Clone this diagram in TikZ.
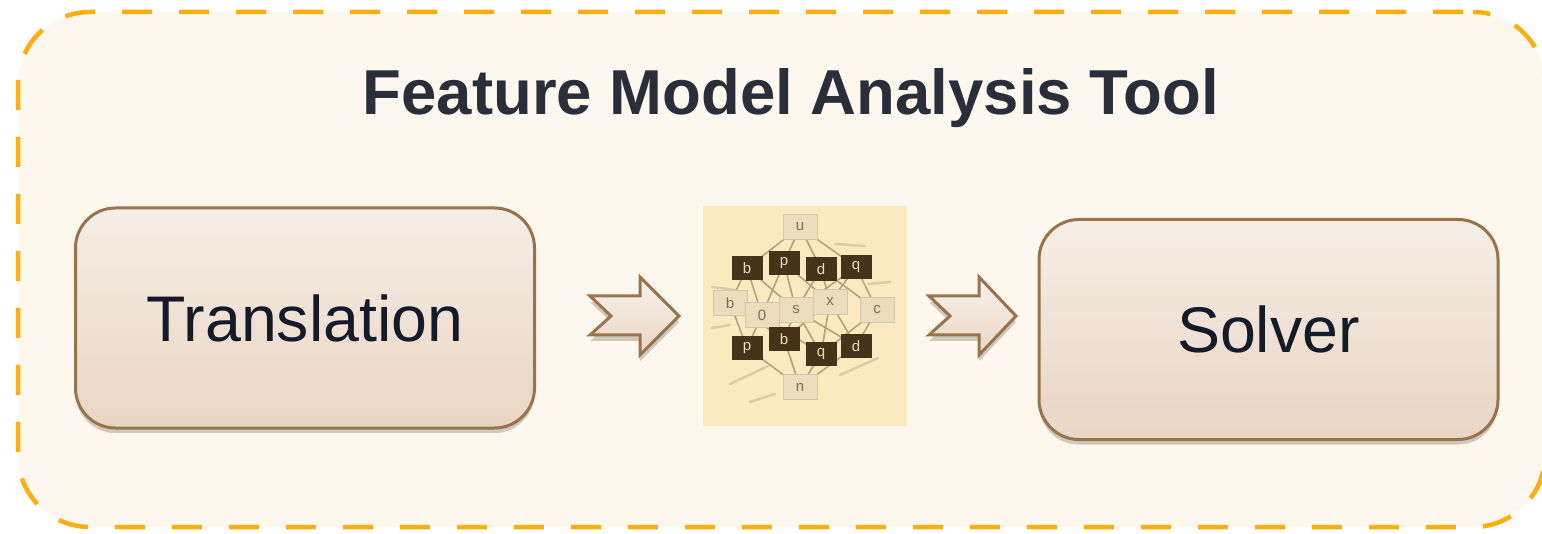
\documentclass[tikz,border=0pt]{standalone}
\usepackage{fontspec}
\setmainfont{Liberation Sans}
\usetikzlibrary{shadows}
\definecolor{panelfill}{HTML}{FEF7EE}
\definecolor{dashorange}{HTML}{FFAE12}
\definecolor{boxedge}{HTML}{98734C}
\definecolor{boxtop}{HTML}{F5EEE6}
\definecolor{boxbot}{HTML}{E9D5C3}
\definecolor{boxshadow}{HTML}{D0C9B9}
\definecolor{inktext}{HTML}{141A28}
\definecolor{titleink}{HTML}{2A2E3A}
\definecolor{latticebg}{HTML}{FDE9C0}
\definecolor{latticeline}{HTML}{B5A27C}
\definecolor{latticedark}{HTML}{49321A}
\definecolor{latticelight}{HTML}{EBDDBB}
\definecolor{smudge}{HTML}{DDCBA3}
\tikzset{
  x=1pt,y=-1pt,
  panel/.style={draw=dashorange,fill=panelfill,line width=4.5pt,rounded corners=72pt,
    dash pattern=on 30pt off 27pt,dash phase=47pt,inner sep=0pt,
    minimum width=1527pt,minimum height=515pt},
  stagebox/.style={draw=boxedge,line width=3pt,rounded corners=40pt,top color=boxtop,bottom color=boxbot,
    inner sep=0pt,minimum width=459pt,minimum height=220pt,text=inktext,
    font=\fontsize{64.5}{70}\selectfont,
    general shadow={fill=boxshadow,shadow xshift=0pt,shadow yshift=-5pt,opacity=1}},
  titletext/.style={text=titleink,inner sep=0pt,font=\fontsize{63.5}{70}\bfseries\selectfont},
  latticeimg/.style={fill=latticebg,inner sep=0pt,minimum width=204pt,minimum height=220pt},
  darkel/.style={fill=latticedark,text=latticelight,inner sep=0pt,minimum width=31pt,minimum height=24pt,font=\fontsize{15}{16}\selectfont},
  lightel/.style={fill=latticelight,draw=latticeline!60,line width=.6pt,text=latticedark!70,inner sep=0pt,minimum width=34pt,minimum height=25pt,font=\fontsize{15}{16}\selectfont},
  latedge/.style={draw=latticeline,line width=1.6pt},
  smudgeline/.style={draw=smudge,line width=2.5pt,line cap=round},
  chev/.style={draw=boxedge,line width=3pt,line join=miter,top color=boxtop!70!white,bottom color=boxbot},
  chevshadow/.style={fill=boxshadow},
}
\newcommand{\chevpath}{(0,0) -- (50,0) -- (50,-19) -- (89,20) -- (50,59) -- (50,39) -- (0,39) -- (21,20) -- cycle}
\begin{document}
\begin{tikzpicture}
\useasboundingbox (0,0) rectangle (1542,534);
\node[panel] (panel) at (781.5,269.5) {};
\node[titletext] (title) at (791,98) {Feature Model Analysis Tool};
\node[stagebox] (translation) at (305,318) {\raisebox{-2pt}{Translation}};
\node[stagebox] (solver) at (1268.5,329.5) {Solver};
\node[latticeimg] (image) at (805,316) {};
% smudges in the image
\draw[smudgeline] (730,384) -- (768,366);
\draw[smudgeline] (750,402) -- (775,394);
\draw[smudgeline] (840,375) -- (878,358);
\draw[smudgeline] (712,328) -- (730,325);
\draw[smudgeline] (712,287) -- (735,290);
\draw[smudgeline] (868,284) -- (890,282);
\draw[smudgeline] (835,244) -- (865,246);
% lattice
\foreach \nm/\px/\py/\st/\lt in {
  u/800/227/lightel/u, n/800/387/lightel/n,
  l1/730/303/lightel/b, o/762/315/lightel/0, s/796/310/lightel/s, xx/830/302/lightel/x, c/877/310/lightel/c,
  t1/747/268/darkel/b, t2/784/263/darkel/p, t3/821/269/darkel/d, t4/856/267/darkel/q,
  b1/747/348/darkel/p, b2/784/339/darkel/b, b3/821/354/darkel/q, b4/856/346/darkel/d}
  \coordinate (c\nm) at (\px,\py);
\foreach \a/\b in {u/t1,u/t2,u/t3,u/t4,t1/l1,t1/o,t1/s,t2/o,t2/s,t2/xx,t3/s,t3/xx,t3/c,t4/xx,t4/c,t4/s,
  l1/b1,l1/b2,o/b1,o/b2,o/b3,s/b2,s/b3,s/b4,xx/b3,xx/b4,xx/b2,c/b4,c/b3,b1/n,b2/n,b3/n,b4/n}
  \draw[latedge] (c\a) -- (c\b);
\foreach \nm/\px/\py/\st/\lt in {
  u/800/227/lightel/u, n/800/387/lightel/n,
  l1/730/303/lightel/b, o/762/315/lightel/0, s/796/310/lightel/s, xx/830/302/lightel/x, c/877/310/lightel/c,
  t1/747/268/darkel/b, t2/784/263/darkel/p, t3/821/269/darkel/d, t4/856/267/darkel/q,
  b1/747/348/darkel/p, b2/784/339/darkel/b, b3/821/354/darkel/q, b4/856/346/darkel/d}
  \node[\st] (\nm) at (c\nm) {\lt};
% block arrows
\begin{scope}[shift={(590,296)}]
  \fill[chevshadow] (0,6) -- (50,6) -- (50,-13) -- (89,26) -- (50,65) -- (50,45) -- (0,45) -- (21,26) -- cycle;
  \draw[chev] \chevpath;
\end{scope}
\begin{scope}[shift={(929,296)}]
  \fill[chevshadow] (0,6) -- (50,6) -- (50,-13) -- (87,26) -- (50,65) -- (50,45) -- (0,45) -- (21,26) -- cycle;
  \draw[chev] (0,0) -- (50,0) -- (50,-19) -- (87,20) -- (50,59) -- (50,39) -- (0,39) -- (21,20) -- cycle;
\end{scope}
\end{tikzpicture}
\end{document}
